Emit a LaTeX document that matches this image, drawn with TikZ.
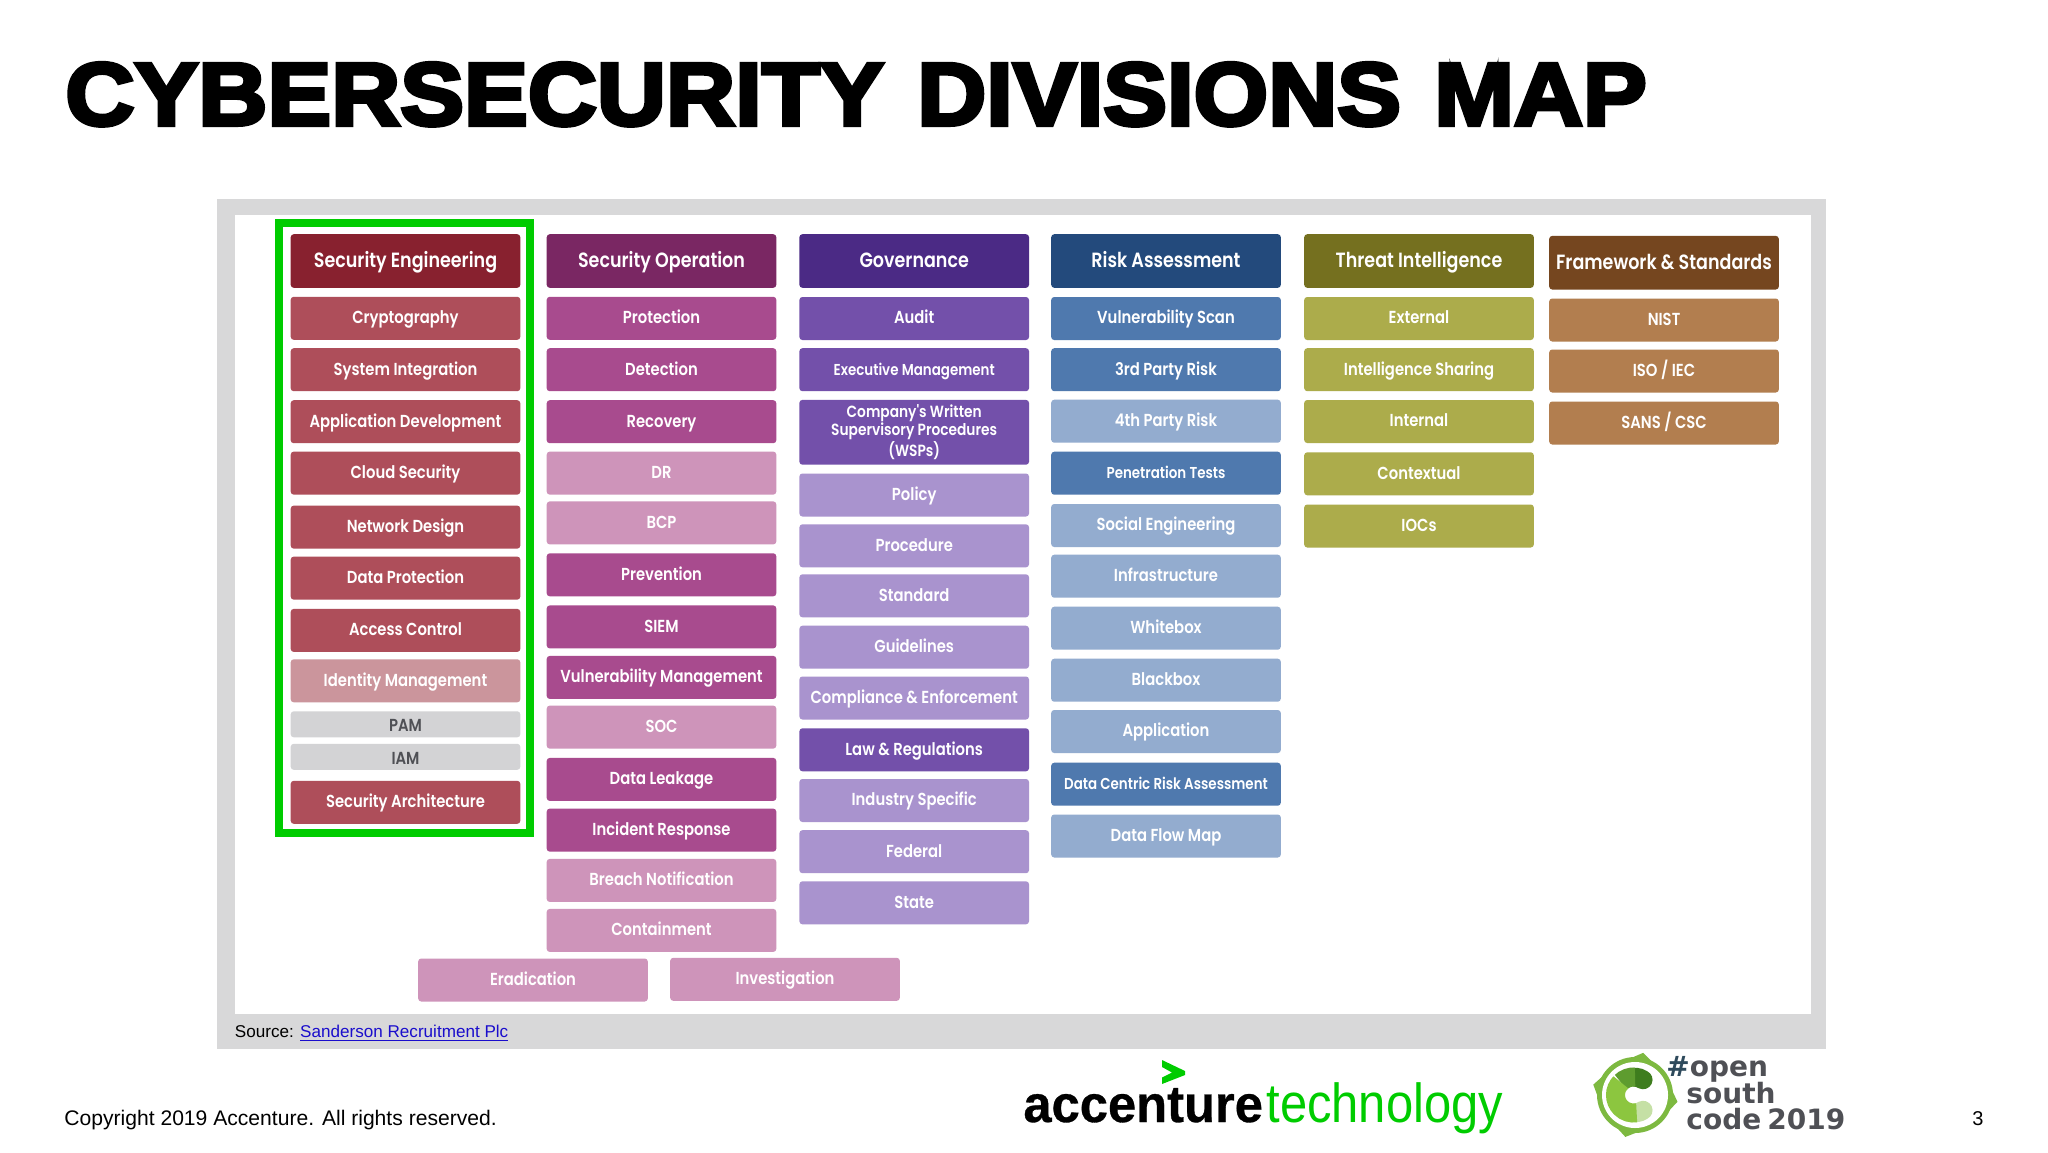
\documentclass[tikz,border=0pt]{standalone}
\usepackage{fontspec}
\setmainfont{Liberation Sans}
\newfontfamily\titlefont[FakeBold=4.5,FakeStretch=1.075,WordSpace=1.25]{Liberation Sans Bold}
\newfontfamily\boxfont[FakeStretch=0.85]{Poppins SemiBold}
\newfontfamily\accfont[FakeBold=0.6,FakeStretch=0.975]{Liberation Sans Bold}
\newfontfamily\techfont[FakeStretch=0.89]{Liberation Sans}
\newfontfamily\osfont{DejaVu Sans Bold}
\usetikzlibrary{positioning}

\definecolor{framegray}{HTML}{D8D8D9}
\definecolor{markgreen}{HTML}{00CC00}
\definecolor{linkblue}{HTML}{1A0DCC}
\definecolor{osgray}{HTML}{4F5055}
\definecolor{osdark}{HTML}{2E4A5C}
\definecolor{osring}{HTML}{7DB940}
\definecolor{cdark}{HTML}{3E7D1E}
\definecolor{cmid}{HTML}{5E9C2F}
\definecolor{clight}{HTML}{8CC63F}
\definecolor{cpale}{HTML}{C5E0A5}
\definecolor{redhead}{HTML}{88212F}
\definecolor{redmid}{HTML}{AE4E5A}
\definecolor{redpale}{HTML}{CB959C}
\definecolor{cellgray}{HTML}{D3D3D5}
\definecolor{plumhead}{HTML}{7A2763}
\definecolor{plummid}{HTML}{A84B8E}
\definecolor{plumpale}{HTML}{CE94BA}
\definecolor{violethead}{HTML}{4B2A85}
\definecolor{violetmid}{HTML}{7350AA}
\definecolor{violetpale}{HTML}{A993CE}
\definecolor{bluehead}{HTML}{234A7C}
\definecolor{bluemid}{HTML}{4F79AE}
\definecolor{bluepale}{HTML}{93ACCF}
\definecolor{olivehead}{HTML}{75701F}
\definecolor{olivemid}{HTML}{ACAC4B}
\definecolor{brownhead}{HTML}{75461F}
\definecolor{brownmid}{HTML}{B27E4F}

\tikzset{
  cell/.style={rectangle, rounded corners=1.5pt, minimum width=114.8pt, minimum height=21.5pt,
    inner sep=0pt, text=white, font=\boxfont\fontsize{8.7}{9}\selectfont, align=center,
    text height=7.3pt, text depth=2pt},
  smallcell/.style={cell, font=\boxfont\fontsize{7.9}{9}\selectfont},
  graycell/.style={cell, fill=cellgray, text=osgray, minimum height=13pt, text height=9.5pt},
  head/.style={cell, minimum height=26.8pt, font=\boxfont\fontsize{10.3}{11}\selectfont, text height=9.2pt, text depth=2.3pt},
  plain/.style={inner sep=0pt, anchor=base west},
  osword/.style={plain, text=osgray, font=\osfont\fontsize{14}{16}\selectfont},
  cband/.style={line width=9.5pt}
}

\begin{document}
\begin{tikzpicture}[x=0.5pt, y=-0.5pt, node distance=25.7pt, on grid]
  \useasboundingbox (0,0) rectangle (2048,1152);
  \fill[framegray] (217,199) rectangle (1826,1049);
  \fill[white] (234.5,215) rectangle (1811,1013.5);
  \draw[markgreen, line width=3.85pt] (279.2,222.8) rectangle (530.2,833);

  \node[plain, font=\titlefont\fontsize{44.5}{50}\selectfont] (title) at (65,125) {CYBERSECURITY DIVISIONS MAP};

  % first column
  \node[head, fill=redhead] (seceng) at (405.5,261) {Security Engineering};
  \node[cell, fill=redmid, below=28.65pt of seceng] (crypto) {Cryptography};
  \node[cell, fill=redmid, below=of crypto] (sysint) {System Integration};
  \node[cell, fill=redmid, below=26pt of sysint] (appdev) {Application Development};
  \node[cell, fill=redmid, below=of appdev] (cloud) {Cloud Security};
  \node[cell, fill=redmid, below=27pt of cloud] (netdes) {Network Design};
  \node[cell, fill=redmid, below=25.5pt of netdes] (dataprot) {Data Protection};
  \node[cell, fill=redmid, below=26.15pt of dataprot] (access) {Access Control};
  \node[cell, fill=redpale, below=25.2pt of access] (idm) {Identity Management};
  \node[graycell, below=21.75pt of idm] (pam) {PAM};
  \node[graycell, below=16.25pt of pam] (iam) {IAM};
  \node[cell, fill=redmid, below=22.75pt of iam] (secarch) {Security Architecture};

  % second column
  \node[head, fill=plumhead] (secop) at (661.5,261) {Security Operation};
  \node[cell, fill=plummid, below=28.65pt of secop] (protect) {Protection};
  \node[cell, fill=plummid, below=of protect] (detect) {Detection};
  \node[cell, fill=plummid, below=26pt of detect] (recover) {Recovery};
  \node[cell, fill=plumpale, below=of recover] (dr) {DR};
  \node[cell, fill=plumpale, below=24.9pt of dr] (bcp) {BCP};
  \node[cell, fill=plummid, below=25.95pt of bcp] (prevent) {Prevention};
  \node[cell, fill=plummid, below=26.05pt of prevent] (siem) {SIEM};
  \node[cell, fill=plummid, below=25.25pt of siem] (vulnmgmt) {Vulnerability Management};
  \node[cell, fill=plumpale, below=24.85pt of vulnmgmt] (soc) {SOC};
  \node[cell, fill=plummid, below=26.15pt of soc] (leak) {Data Leakage};
  \node[cell, fill=plummid, below=25.35pt of leak] (incident) {Incident Response};
  \node[cell, fill=plumpale, below=25.15pt of incident] (breach) {Breach Notification};
  \node[cell, fill=plumpale, below=25pt of breach] (contain) {Containment};
  \node[cell, fill=plumpale] (eradic) at (533,980) {Eradication};
  \node[cell, fill=plumpale] (investig) at (785,979.3) {Investigation};

  % third column
  \node[head, fill=violethead] (gov) at (914.2,261) {Governance};
  \node[cell, fill=violetmid, below=28.75pt of gov] (audit) {Audit};
  \node[smallcell, fill=violetmid, below=25.6pt of audit] (exec) {Executive Management};
  \node[smallcell, fill=violetmid, minimum height=32.4pt, text height=, text depth=, font=\boxfont\fontsize{8.1}{9}\selectfont, below=31.3pt of exec] (wsp) {Company's Written\\Supervisory Procedures\\(WSPs)};
  \node[cell, fill=violetpale, below=31.35pt of wsp] (policy) {Policy};
  \node[cell, fill=violetpale, below=25.4pt of policy] (proced) {Procedure};
  \node[cell, fill=violetpale, below=25pt of proced] (standard) {Standard};
  \node[cell, fill=violetpale, below=of standard] (guide) {Guidelines};
  \node[cell, fill=violetpale, below=25.4pt of guide] (comply) {Compliance \& Enforcement};
  \node[cell, fill=violetmid, below=25.9pt of comply] (law) {Law \& Regulations};
  \node[cell, fill=violetpale, below=25.35pt of law] (industry) {Industry Specific};
  \node[cell, fill=violetpale, below=25.6pt of industry] (federal) {Federal};
  \node[cell, fill=violetpale, below=25.55pt of federal] (state) {State};

  % fourth column
  \node[head, fill=bluehead] (risk) at (1166,261) {Risk Assessment};
  \node[cell, fill=bluemid, below=28.75pt of risk] (vulnscan) {Vulnerability Scan};
  \node[cell, fill=bluemid, below=25.6pt of vulnscan] (third) {3rd Party Risk};
  \node[cell, fill=bluepale, below=25.75pt of third] (fourth) {4th Party Risk};
  \node[smallcell, fill=bluemid, below=26pt of fourth] (pentest) {Penetration Tests};
  \node[cell, fill=bluepale, below=26.15pt of pentest] (social) {Social Engineering};
  \node[cell, fill=bluepale, below=25.35pt of social] (infra) {Infrastructure};
  \node[cell, fill=bluepale, below=26pt of infra] (white) {Whitebox};
  \node[cell, fill=bluepale, below=26pt of white] (black) {Blackbox};
  \node[cell, fill=bluepale, below=25.65pt of black] (appl) {Application};
  \node[smallcell, fill=bluemid, below=26.35pt of appl] (centric) {Data Centric Risk Assessment};
  \node[cell, fill=bluepale, below=25.9pt of centric] (flow) {Data Flow Map};

  % fifth column
  \node[head, fill=olivehead] (threat) at (1419,261) {Threat Intelligence};
  \node[cell, fill=olivemid, below=28.75pt of threat] (extern) {External};
  \node[cell, fill=olivemid, below=25.6pt of extern] (share) {Intelligence Sharing};
  \node[cell, fill=olivemid, below=25.9pt of share] (intern) {Internal};
  \node[cell, fill=olivemid, below=26.15pt of intern] (context) {Contextual};
  \node[cell, fill=olivemid, below=26.1pt of context] (iocs) {IOCs};

  % sixth column
  \node[head, fill=brownhead] (frame) at (1664,262.7) {Framework \& Standards};
  \node[cell, fill=brownmid, below=28.65pt of frame] (nist) {NIST};
  \node[cell, fill=brownmid, below=25.5pt of nist] (iso) {ISO / IEC};
  \node[cell, fill=brownmid, below=26pt of iso] (sans) {SANS / CSC};

  \node[plain, font=\fontsize{8.55}{10}\selectfont] (source) at (234.5,1037) {Source: \textcolor{linkblue}{\underline{Sanderson Recruitment Plc}}};
  \node[plain, font=\fontsize{10.55}{12}\selectfont] (copyr) at (64,1125) {Copyright 2019 Accenture. All rights reserved.};
  \node[plain, font=\fontsize{10}{12}\selectfont] (pagenum) at (1972,1125) {3};

  % accenture logo
  \node[plain, font=\accfont\fontsize{26}{28}\selectfont] (accname) at (1023,1122) {accenture};
  \node[plain, text=markgreen, font=\techfont\fontsize{27.5}{30}\selectfont] (techname) at (1266,1122) {technology};
  \fill[markgreen] (1162,1060) -- (1185,1071) -- (1185,1075) -- (1162,1084) -- (1162,1077.5) -- (1172,1072.5) -- (1162,1067) -- cycle;

  % open south code logo
  \coordinate (oscentre) at (1635,1095);
  \coordinate (cmark) at (1633.5,1095);
  \fill[osring] (oscentre) circle [radius=38];
  \fill[osring] ([shift={(oscentre)}]-79:43) -- ([shift={(oscentre)}]-104:36) -- ([shift={(oscentre)}]-54:36) -- cycle;
  \fill[osring] ([shift={(oscentre)}]-166:43) -- ([shift={(oscentre)}]-191:36) -- ([shift={(oscentre)}]-141:36) -- cycle;
  \fill[osring] ([shift={(oscentre)}]-257:43) -- ([shift={(oscentre)}]-282:36) -- ([shift={(oscentre)}]-232:36) -- cycle;
  \fill[osring] ([shift={(oscentre)}]9:43) -- ([shift={(oscentre)}]34:36) -- ([shift={(oscentre)}]-16:36) -- cycle;
  \fill[white] (oscentre) circle [radius=33];
  \draw[cband, line cap=round, cdark] (cmark) ++(-58:18) arc[start angle=-58, end angle=-85, radius=18];
  \draw[cband, line cap=round, cpale] (cmark) ++(-302:18) arc[start angle=-302, end angle=-280, radius=18];
  \draw[cband, cmid] (cmark) ++(-85:18) arc[start angle=-85, end angle=-135, radius=18];
  \draw[cband, clight] (cmark) ++(-135:18) arc[start angle=-135, end angle=-280, radius=18];
  \node[osword] (osone) at (1666,1076) {\textcolor{osdark}{\#}open};
  \node[osword] (ostwo) at (1686,1103) {south};
  \node[osword] (osthree) at (1686,1129) {code};
  \node[osword] (osyear) at (1767,1129) {2019};
\end{tikzpicture}
\end{document}
